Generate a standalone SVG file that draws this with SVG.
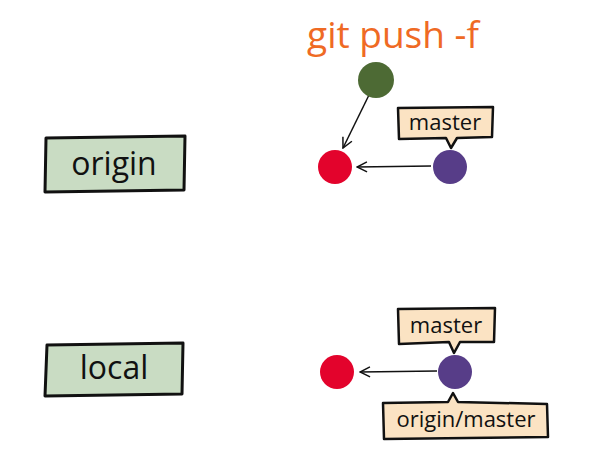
<svg xmlns="http://www.w3.org/2000/svg" width="590" height="451" viewBox="0 0 590 451">
<style>
.box{fill:#c9dcc3;stroke:#111;stroke-width:3;stroke-linejoin:round}
.tag{fill:#fbe3c3;stroke:#111;stroke-width:2.5;stroke-linejoin:round}
.lbl{font-family:"Open Sans","Liberation Sans",sans-serif;fill:#111;text-anchor:middle}
.big{font-size:32px}
.sm{font-size:22px}
.edge{fill:none;stroke:#111;stroke-width:1.5}
</style>
<defs>
<marker id="ah" markerWidth="12" markerHeight="12" refX="11" refY="6" orient="auto" markerUnits="userSpaceOnUse">
<path d="M1,1 L11,6 L1,11" fill="none" stroke="#111" stroke-width="1.5"/>
</marker>
</defs>
<rect width="590" height="451" fill="#fff"/>
<text x="393" y="48" font-family="'Open Sans','Liberation Sans',sans-serif" font-size="37" fill="#ef6a24" text-anchor="middle">git push -f</text>
<g id="origin">
<path class="box" d="M46,138 L185,136 L184,190 L45,192 Z"/>
<text class="lbl big" x="114" y="175">origin</text>
</g>
<g id="local">
<path class="box" d="M47,345 L183,343 L182,394 L45,396 Z"/>
<text class="lbl big" x="114" y="379">local</text>
</g>
<g id="connectors">
<path class="edge" d="M369,95 L343,148" marker-end="url(#ah)"/>
<path class="edge" d="M431,166 L357,167" marker-end="url(#ah)"/>
<path class="edge" d="M437,371 L360,372" marker-end="url(#ah)"/>
</g>
<g id="c-green"><circle cx="376" cy="80" r="18" fill="#4d6a34"/></g>
<g id="c-red-top"><circle cx="335" cy="167" r="17" fill="#e3032c"/></g>
<g id="c-purple-top"><circle cx="450" cy="167" r="17" fill="#573d88"/></g>
<g id="c-red-bot"><circle cx="337" cy="372" r="17" fill="#e3032c"/></g>
<g id="c-purple-bot"><circle cx="455" cy="372" r="17" fill="#573d88"/></g>
<g id="tag-master-top">
<path class="tag" d="M398,108 L493,107 L492,137 L457,138 L451,148 L446,138 L399,139 Z"/>
<text class="lbl sm" x="445" y="130">master</text>
</g>
<g id="tag-master-bot">
<path class="tag" d="M398,309 L495,308 L494,342 L460,342 L454,353 L449,342 L399,344 Z"/>
<text class="lbl sm" x="446" y="333">master</text>
</g>
<g id="tag-origin-master">
<path class="tag" d="M383,403 L448,402 L453,393 L458,402 L547,404 L548,437 L384,439 Z"/>
<text class="lbl sm" x="466" y="427" font-size="23">origin/master</text>
</g>
</svg>
